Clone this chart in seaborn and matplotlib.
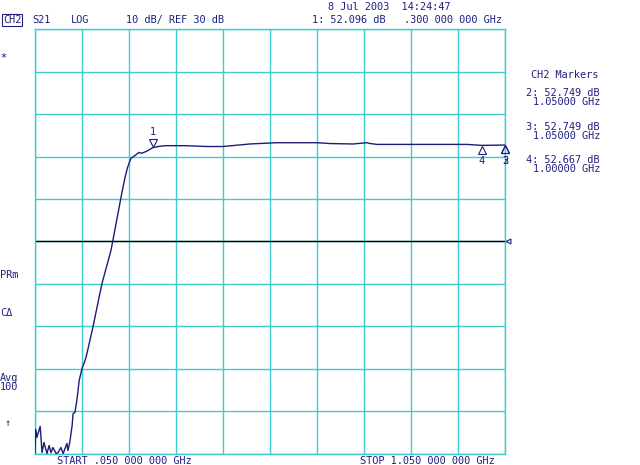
import numpy as np
import pandas as pd
import seaborn as sns
import matplotlib
matplotlib.use('Agg')
import matplotlib.pyplot as plt

# trace (GHz, dB)
freq_ghz = [0.050, 0.0515, 0.054, 0.061, 0.065, 0.069, 0.0755, 0.080, 0.084, 0.088,
            0.095, 0.099, 0.105, 0.110, 0.114, 0.118, 0.120, 0.124, 0.129, 0.131,
            0.135, 0.139, 0.144, 0.150, 0.1585, 0.173, 0.1925, 0.2117, 0.2238, 0.2345,
            0.2415, 0.247, 0.254, 0.263, 0.271, 0.277, 0.2877, 0.300, 0.3117, 0.3266,
            0.370, 0.416, 0.450, 0.507, 0.565, 0.650, 0.678, 0.727, 0.756, 0.763,
            0.778, 0.812, 0.969, 0.990, 1.000, 1.050]
s21_db = [-20.0, -14.3, -16.2, -13.6, -19.8, -17.4, -20.0, -18.1, -19.8, -18.6,
          -20.0, -19.8, -18.6, -20.0, -18.8, -17.6, -19.3, -17.4, -13.4, -10.6,
          -10.3, -7.5, -2.8, 0.0, 2.6, 9.7, 20.1, 27.9, 35.0, 41.3,
          45.1, 47.5, 49.6, 50.3, 51.0, 50.8, 51.3, 52.1, 52.4, 52.6,
          52.6, 52.4, 52.4, 53.0, 53.3, 53.3, 53.1, 53.0, 53.3, 53.1,
          52.9, 52.9, 52.9, 52.75, 52.67, 52.75]

# markers
marker_ids = ['1', '2', '3', '4']
marker_freq = [0.300, 1.050, 1.050, 1.000]
marker_db = [52.096, 52.749, 52.749, 52.667]

start_ghz, stop_ghz = 0.05, 1.05
scale_db, ref_db = 10, 30

navy = '#1c1c78'
textc = '#202080'
cyan = '#40cccc'

sns.set_style('white')
plt.rcParams['font.family'] = ['DejaVu Sans Mono', 'DejaVu Sans']
fs = 7.4

fig = plt.figure(figsize=(6.4, 4.65), dpi=100)
ax = fig.add_axes([35 / 640, 11.5 / 465, 470 / 640, 424 / 465])

df = pd.DataFrame({'freq': freq_ghz, 'db': s21_db})
sns.lineplot(data=df, x='freq', y='db', ax=ax, color=navy, lw=1.0,
             estimator=None, sort=False, zorder=3)

ax.set_xlim(start_ghz, stop_ghz)
ax.set_ylim(ref_db - 5 * scale_db, ref_db + 5 * scale_db)
ax.set_xticks(np.linspace(start_ghz, stop_ghz, 11))
ax.set_yticks(np.arange(ref_db - 5 * scale_db, ref_db + 5 * scale_db + 1, scale_db))
ax.grid(True, color=cyan, lw=1.0)
ax.tick_params(length=0, labelbottom=False, labelleft=False)
ax.set_xlabel('')
ax.set_ylabel('')
for s in ax.spines.values():
    s.set_color(cyan)
    s.set_linewidth(1.0)

# reference line
ax.axhline(ref_db, color='black', lw=1.0, zorder=2)
ax.annotate('', xy=(stop_ghz, ref_db), xytext=(3, 0), textcoords='offset points')
ax.plot([stop_ghz], [ref_db], marker='<', ms=3.5, mfc='white', mec=navy, mew=0.8,
        clip_on=False, zorder=4, transform=matplotlib.transforms.offset_copy(
            ax.transData, fig, x=2.2, y=0, units='points'))

# marker triangles
for mid, f, d in zip(marker_ids, marker_freq, marker_db):
    if mid == '1':
        tr = matplotlib.transforms.offset_copy(ax.transData, fig, x=0, y=3.2, units='points')
        ax.plot([f], [d], marker='v', ms=6, mfc='white', mec=navy, mew=0.8,
                transform=tr, clip_on=False, zorder=4)
        ax.annotate(mid, xy=(f, d), xytext=(0, 11.5), textcoords='offset points',
                    ha='center', va='center', fontsize=fs, color=textc)
    else:
        tr = matplotlib.transforms.offset_copy(ax.transData, fig, x=0, y=-3.2, units='points')
        ax.plot([f], [d], marker='^', ms=6, mfc='none', mec=navy, mew=0.8,
                transform=tr, clip_on=False, zorder=4)
        ax.annotate(mid, xy=(f, d), xytext=(0, -11.5), textcoords='offset points',
                    ha='center', va='center', fontsize=fs, color=textc)

def ftext(x, y, s, **kw):
    fig.text(x / 640, 1 - y / 465, s, fontsize=fs, color=textc, va='center', **kw)

# header
ftext(328, 7, '8 Jul 2003  14:24:47')
ftext(3, 20, 'CH2', bbox=dict(boxstyle='square,pad=0.1', fc='none', ec=textc, lw=0.8))
ftext(32, 20, 'S21')
ftext(71, 20, 'LOG')
ftext(126, 20, '%d dB/ REF %d dB' % (scale_db, ref_db))
ftext(312, 20, '%s: %.3f dB' % (marker_ids[0], marker_db[0]))
ftext(404, 20, '.%03d 000 000 GHz' % round(marker_freq[0] * 1000))

# footer
ftext(57, 461, 'START .%03d 000 000 GHz' % round(start_ghz * 1000))
ftext(360, 461, 'STOP %.3f 000 000 GHz' % stop_ghz)

# left annotations
ftext(0, 58, '*')
ftext(0, 275, 'PRm')
ftext(0, 313, 'C\u0394')
ftext(0, 378, 'Avg')
ftext(0, 387, '100')
ftext(5, 423, '\u2191')

# marker table on the right
ftext(531, 75, 'CH2 Markers')
rows_y = [93, 127, 160]
for (mid, f, d), ry in zip(list(zip(marker_ids, marker_freq, marker_db))[1:], rows_y):
    ftext(600, ry, '%s: %.3f dB' % (mid, d), ha='right')
    ftext(600, ry + 9, '%.5f GHz' % f, ha='right')

fig.savefig('out.png', dpi=100)
